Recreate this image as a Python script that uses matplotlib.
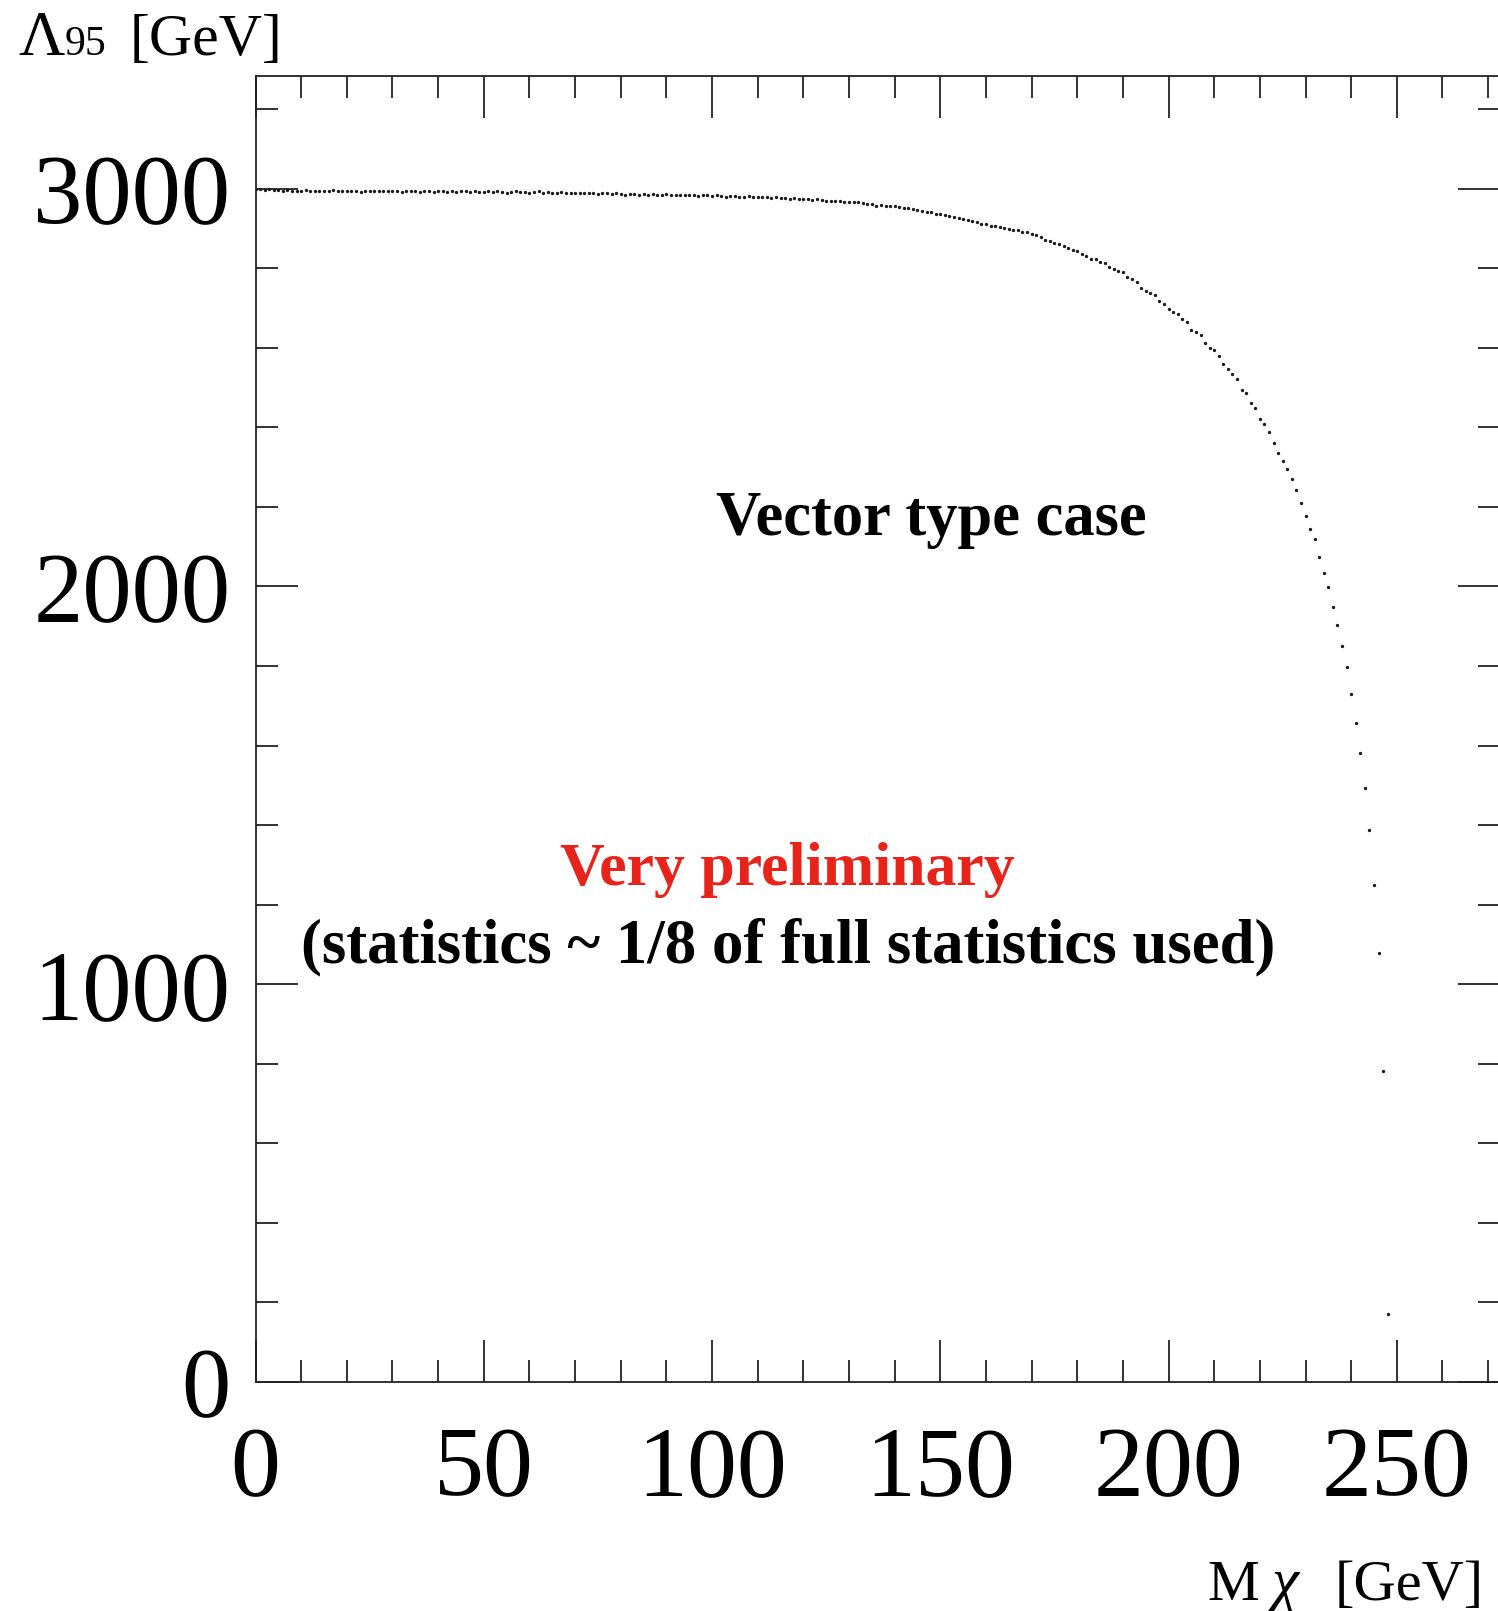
import matplotlib
matplotlib.use("Agg")
import matplotlib.pyplot as plt
from matplotlib.ticker import MultipleLocator

# limite Lambda_95 en funcion de la masa, pasos de 1 GeV
masas = list(range(0, 249))
lambda95 = [
    2999, 2998, 2997, 2998, 2996, 2997, 2995, 2996, 2994, 2995,
    2994, 2996, 2993, 2994, 2995, 2993, 2994, 2996, 2993, 2994,
    2995, 2993, 2994, 2992, 2994, 2995, 2993, 2994, 2993, 2995,
    2993, 2994, 2992, 2993, 2995, 2994, 2992, 2993, 2994, 2992,
    2993, 2995, 2992, 2993, 2991, 2993, 2994, 2992, 2993, 2991,
    2992, 2993, 2991, 2994, 2992, 2990, 2992, 2993, 2991, 2992,
    2990, 2992, 2993, 2990, 2991, 2990, 2989, 2991, 2990, 2989,
    2990, 2988, 2990, 2989, 2988, 2987, 2989, 2988, 2986, 2988,
    2987, 2984, 2987, 2986, 2985, 2987, 2984, 2986, 2983, 2985,
    2986, 2984, 2985, 2983, 2984, 2985, 2983, 2981, 2984, 2983,
    2982, 2983, 2981, 2980, 2982, 2981, 2979, 2980, 2981, 2979,
    2978, 2980, 2978, 2977, 2978, 2976, 2977, 2975, 2976, 2974,
    2975, 2973, 2972, 2973, 2971, 2970, 2969, 2970, 2968, 2967,
    2967, 2966, 2967, 2964, 2961, 2960, 2957, 2958, 2955, 2955,
    2955, 2953, 2951, 2952, 2948, 2947, 2944, 2940, 2941, 2937,
    2935, 2933, 2930, 2929, 2926, 2924, 2921, 2918, 2916, 2912,
    2910, 2907, 2905, 2903, 2902, 2899, 2896, 2896, 2892, 2890,
    2887, 2884, 2878, 2871, 2868, 2864, 2860, 2856, 2851, 2845,
    2842, 2836, 2830, 2823, 2822, 2816, 2812, 2804, 2798, 2794,
    2790, 2777, 2772, 2764, 2749, 2743, 2737, 2732, 2717, 2711,
    2697, 2690, 2685, 2672, 2665, 2644, 2639, 2632, 2613, 2599,
    2593, 2579, 2559, 2547, 2533, 2521, 2494, 2487, 2460, 2448,
    2421, 2407, 2388, 2361, 2335, 2315, 2296, 2269, 2243, 2210,
    2178, 2145, 2118, 2073, 2033, 1999, 1947, 1902, 1850, 1797,
    1730, 1657, 1580, 1494, 1387, 1249, 1078, 781, 171,
]

W, H = 1498, 1611
serif = "Liberation Serif"


def px(x, y):
    return x / W, 1 - y / H


fig = plt.figure(figsize=(W / 100, H / 100), dpi=100)
ax = fig.add_axes([255.5 / W, 229 / H, (1500 - 255.5) / W, 1306 / H])

ax.plot(masas, lambda95, linestyle="none", marker="o", markersize=2.4,
        markeredgewidth=0, color="#1a1a1a")

ax.set_xlim(0, 272.6)
ax.set_ylim(0, 3283)
ax.xaxis.set_major_locator(MultipleLocator(50))
ax.xaxis.set_minor_locator(MultipleLocator(10))
ax.yaxis.set_major_locator(MultipleLocator(1000))
ax.yaxis.set_minor_locator(MultipleLocator(200))

for s in ax.spines.values():
    s.set_linewidth(1.3)
    s.set_color("#222222")

ax.tick_params(which="both", direction="in", top=True, right=True,
               width=1.3, color="#222222")
ax.tick_params(which="major", length=30)
ax.tick_params(which="minor", length=15.5)
ax.tick_params(axis="x", which="major", pad=32, labelsize=72)
ax.tick_params(axis="y", which="major", pad=18, labelsize=71)
for lab in ax.get_xticklabels() + ax.get_yticklabels():
    lab.set_family(serif)

# etiqueta del eje y
fig.text(*px(18, 55), "Λ", family=serif, fontsize=46, va="baseline")
fig.text(*px(65, 55), "95", family=serif, fontsize=30, va="baseline")
fig.text(*px(130, 55), "[GeV]", family=serif, fontsize=43, va="baseline")

# etiqueta del eje x
fig.text(*px(1207, 1600), "M", family=serif, fontsize=42, va="baseline")
fig.text(*px(1272, 1600), "χ", family=serif, style="italic", fontsize=44,
         va="baseline")
fig.text(*px(1335, 1600), "[GeV]", family=serif, fontsize=42, va="baseline")

# textos dentro del grafico
fig.text(*px(716, 535), "Vector type case", family=serif, weight="bold",
         fontsize=45, va="baseline")
fig.text(*px(560, 885), "Very preliminary", family=serif, weight="bold",
         fontsize=44.5, color="#e8231a", va="baseline")
fig.text(*px(301, 962), "(statistics ~ 1/8 of full statistics used)",
         family=serif, weight="bold", fontsize=45.3, va="baseline")

fig.savefig("out.png", dpi=100, facecolor="white")
